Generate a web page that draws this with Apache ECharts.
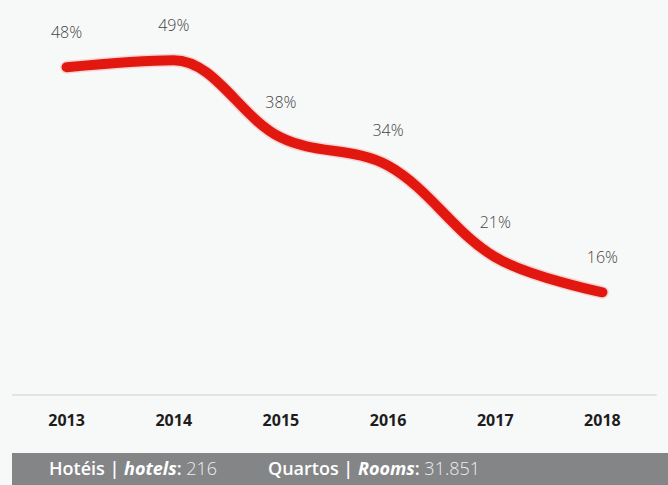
<!DOCTYPE html>
<html>
<head>
<meta charset="utf-8">
<script src="https://cdn.jsdelivr.net/npm/echarts@6/dist/echarts.min.js"></script>
<style>
  html, body { margin: 0; padding: 0; background: #f7f8f8; }
  #chart { width: 668px; height: 485px; }
</style>
</head>
<body>
<div id="chart"></div>
<script>
// occupancy share by year
const years = ["2013", "2014", "2015", "2016", "2017", "2018"];
const shares = [48, 49, 38, 34, 21, 16];
const hotels = "216";
const rooms = "31.851";

const chart = echarts.init(document.getElementById("chart"), null, { renderer: "svg" });

const lineBase = {
  type: "line",
  data: shares,
  smooth: 0.35,
  silent: true
};

const barText = {
  b: { fill: "#fff", fontSize: 18, fontWeight: 600, fontFamily: "Open Sans" },
  bi: { fill: "#fff", fontSize: 18, fontWeight: 700, fontStyle: "italic", fontFamily: "Open Sans" },
  l: { fill: "#eeeeee", fontSize: 18, fontWeight: 300, fontFamily: "Open Sans" }
};

chart.setOption({
  backgroundColor: "#f7f8f8",
  animation: false,
  textStyle: { fontFamily: "Open Sans" },
  grid: { left: 13, right: 12, top: 18, bottom: 90 },
  xAxis: {
    type: "category",
    data: years,
    boundaryGap: true,
    axisLine: { lineStyle: { color: "#e2e3e3", width: 2 } },
    axisTick: { show: false },
    axisLabel: { color: "#1d1d1d", fontSize: 16, fontWeight: "bold", margin: 17 }
  },
  yAxis: {
    type: "value",
    min: 1.4,
    max: 55,
    show: false
  },
  series: [
    Object.assign({}, lineBase, {
      symbol: "none",
      lineStyle: { color: "#e2170f", width: 13, opacity: 0.15, cap: "round" },
      z: 1
    }),
    Object.assign({}, lineBase, {
      symbol: "circle",
      symbolSize: 1,
      showSymbol: true,
      itemStyle: { color: "rgba(0,0,0,0)" },
      lineStyle: { color: "#e2170f", width: 10, cap: "round" },
      label: {
        show: true,
        position: "top",
        distance: 27,
        formatter: "{c}%",
        color: "#444",
        fontSize: 16,
        fontWeight: 300,
        textBorderWidth: 0
      },
      z: 2
    })
  ],
  graphic: [
    {
      type: "rect",
      shape: { x: 12, y: 453, width: 656, height: 32 },
      style: { fill: "#848587" }
    },
    {
      type: "text",
      left: 49,
      top: 459,
      style: { text: "{b|Hotéis | }{bi|hotels}{b|:}{l| " + hotels + "}", rich: barText }
    },
    {
      type: "text",
      left: 268,
      top: 459,
      style: { text: "{b|Quartos | }{bi|Rooms}{b|:}{l| " + rooms + "}", rich: barText }
    }
  ]
});
</script>
</body>
</html>
